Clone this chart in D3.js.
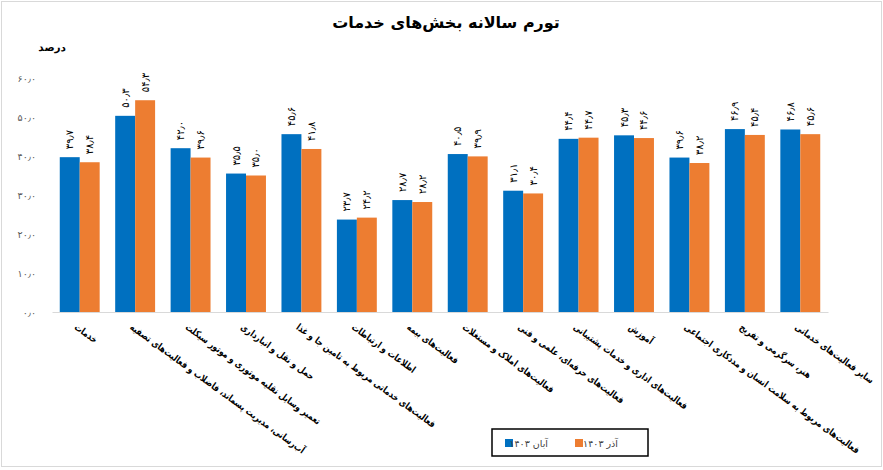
<!DOCTYPE html>
<html>
<head>
<meta charset="utf-8">
<script src="https://cdn.jsdelivr.net/npm/d3@7"></script>
<style>
  html, body { margin: 0; padding: 0; background: #fff; }
  svg { display: block; }
</style>
</head>
<body>
<svg id="chart" width="883" height="470"></svg>
<script>
const categories = [
  "خدمات",
  "آب‌رسانی، مدیریت پسماند، فاضلاب و فعالیت‌های تصفیه",
  "تعمیر وسایل نقلیه موتوری و موتور سیکلت",
  "حمل و نقل و انبارداری",
  "فعالیت‌های خدماتی مربوط به تامین جا و غذا",
  "اطلاعات و ارتباطات",
  "فعالیت‌های بیمه",
  "فعالیت‌های املاک و مستغلات",
  "فعالیت‌های حرفه‌ای، علمی و فنی",
  "فعالیت‌های اداری و خدمات پشتیبانی",
  "آموزش",
  "فعالیت‌های مربوط به سلامت انسان و مددکاری اجتماعی",
  "هنر، سرگرمی و تفریح",
  "سایر فعالیت‌های خدماتی"
];
const seriesNames = ["آبان ۱۴۰۳", "آذر ۱۴۰۳"];
const aban1403 = [39.7, 50.3, 42.0, 35.5, 45.6, 23.7, 28.7, 40.5, 31.1, 44.4, 45.3, 39.6, 46.9, 46.8];
const azar1403 = [38.4, 54.3, 39.6, 35.0, 41.8, 24.2, 28.2, 39.9, 30.4, 44.7, 44.6, 38.2, 45.4, 45.6];
const yTicks = [0, 10, 20, 30, 40, 50, 60];
const titleText = "تورم سالانه بخش‌های خدمات";
const unitText = "درصد";

const colors = ["#0070C0", "#ED7D31"];
const faDigits = "۰۱۲۳۴۵۶۷۸۹";
const toFa = v => v.toFixed(1).replace(/[0-9]/g, d => faDigits[+d]).replace(".", "٫");

const svg = d3.select("#chart");
const W = 883;
const plotBottom = 312, plotTop = 78;

// outer border
svg.append("rect").attr("x", 1.5).attr("y", 1.5).attr("width", W - 3).attr("height", 465)
  .attr("fill", "#fff").attr("stroke", "#D9D9D9").attr("stroke-width", 1);

const x0 = d3.scaleBand().domain(d3.range(categories.length)).range([52, 828]).paddingInner(0.28).paddingOuter(0.14);
const x1 = d3.scaleBand().domain([0, 1]).range([0, x0.bandwidth()]);
const y = d3.scaleLinear().domain([0, 60]).range([plotBottom, plotTop]);

// title
svg.append("text").attr("x", 446).attr("y", 28).attr("text-anchor", "middle")
  .attr("font-family", "DejaVu Sans").attr("font-weight", "bold").attr("font-size", 16)
  .attr("fill", "#000").text(titleText);
svg.append("text").attr("x", 66).attr("y", 51).attr("text-anchor", "end")
  .attr("font-family", "DejaVu Sans").attr("font-weight", "bold").attr("font-size", 10.5)
  .attr("fill", "#000").text(unitText);

// y axis
const yAxis = d3.axisLeft(y).tickValues(yTicks).tickSize(0).tickPadding(0).tickFormat(toFa);
const gy = svg.append("g").attr("transform", "translate(36,0)").call(yAxis);
gy.select(".domain").remove();
gy.selectAll("text").attr("font-family", "DejaVu Sans").attr("font-size", 9.5).attr("fill", "#595959");

// bars
const series = [aban1403, azar1403];
const groups = svg.append("g").selectAll("g").data(categories).join("g")
  .attr("transform", (d, i) => `translate(${x0(i)},0)`);

groups.selectAll("rect").data((d, i) => series.map((s, k) => ({ k, v: s[i] }))).join("rect")
  .attr("x", d => x1(d.k)).attr("width", x1.bandwidth())
  .attr("y", d => y(d.v)).attr("height", d => y(0) - y(d.v))
  .attr("fill", d => colors[d.k]);

groups.selectAll("text.val").data((d, i) => series.map((s, k) => ({ k, v: s[i] }))).join("text")
  .attr("class", "val")
  .attr("transform", d => `translate(${x1(d.k) + x1.bandwidth() / 2},${y(d.v) - 8}) rotate(-90)`)
  .attr("text-anchor", "start").attr("dominant-baseline", "central")
  .attr("font-family", "DejaVu Sans").attr("font-size", 10).attr("fill", "#000")
  .text(d => toFa(d.v));

// x axis line
const xAxis = d3.axisBottom(x0).tickSize(0).tickFormat("");
const gx = svg.append("g").attr("transform", `translate(0,${plotBottom})`).call(xAxis);
gx.select(".domain").attr("stroke", "#D9D9D9").attr("stroke-width", 1);

// category labels
svg.append("g").selectAll("text").data(categories).join("text")
  .attr("transform", (d, i) => `translate(${x0(i) + x0.bandwidth() / 2 - 2},${plotBottom + 11}) rotate(36) scale(0.82,1)`)
  .attr("text-anchor", "start").attr("dy", "0.7em")
  .attr("font-family", "DejaVu Sans").attr("font-weight", "bold").attr("font-size", 9.5)
  .attr("fill", "#000").text(d => d);

// legend
const lg = svg.append("g");
lg.append("rect").attr("x", 492).attr("y", 429).attr("width", 156).attr("height", 27)
  .attr("fill", "#fff").attr("stroke", "#000").attr("stroke-width", 1.5);
const legendItems = [{ k: 0, mx: 505, tx: 548 }, { k: 1, mx: 575, tx: 618 }];
legendItems.forEach(it => {
  lg.append("rect").attr("x", it.mx).attr("y", 439).attr("width", 8).attr("height", 8).attr("fill", colors[it.k]);
  lg.append("text").attr("x", it.tx).attr("y", 443).attr("text-anchor", "end").attr("dominant-baseline", "central")
    .attr("font-family", "DejaVu Sans").attr("font-size", 9.5).attr("fill", "#404040").text(seriesNames[it.k]);
});
</script>
</body>
</html>
